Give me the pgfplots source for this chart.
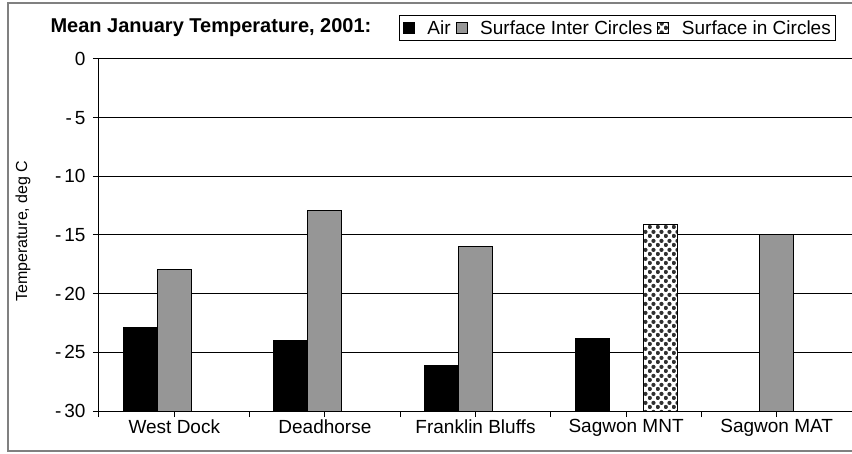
\documentclass[border=0pt]{standalone}
\usepackage{fontspec}
\setmainfont{Liberation Sans}
\usepackage{pgfplots}
\pgfplotsset{compat=1.18}
\usetikzlibrary{patterns.meta}

\definecolor{barGray}{HTML}{969696}
\definecolor{dotGray}{HTML}{303030}

\pgfdeclarepattern{
  name=circdots, type=uncolored,
  bottom left={\pgfpoint{0pt}{0pt}},
  top right={\pgfpoint{8pt}{9pt}},
  tile size={\pgfpoint{8pt}{9pt}},
  code={
    \pgfpathcircle{\pgfpoint{2pt}{2.25pt}}{2.3pt}
    \pgfpathcircle{\pgfpoint{6pt}{6.75pt}}{2.3pt}
    \pgfusepath{fill}
  }
}

\newcommand{\fs}{\fontsize{19}{22}\selectfont}

\begin{document}
\begin{tikzpicture}[x=1pt,y=1pt]
\useasboundingbox (0,0) rectangle (852,453);
% chart frame (right side runs past the edge)
\draw[line width=1.5pt, color=gray] (8,2) rectangle (900,450);

\begin{axis}[
  at={(99pt,42pt)}, anchor=south west,
  scale only axis, width=753pt, height=352pt,
  xmin=0, xmax=5, ymin=-30, ymax=0,
  y coord trafo/.code={\pgfmathparse{#1+30}},
  y coord inv trafo/.code={\pgfmathparse{#1-30}},
  axis x line=bottom, axis y line=left,
  axis line style={line width=1pt, -},
  ytick={-30,-25,-20,-15,-10,-5,0},
  yticklabels={-\kern3pt30,-\kern3pt25,-\kern3pt20,-\kern3pt15,-\kern3pt10,-\kern3pt5,0},
  xtick={0.5,1.5,2.5,3.5,4.5},
  xticklabels={West Dock,Deadhorse,Franklin Bluffs,Sagwon MNT,Sagwon MAT},
  minor xtick={0,1,2,3,4,5},
  tick align=outside,
  major tick length=6pt, minor tick length=6pt,
  tick style={line width=1pt, black},
  ymajorgrids, major grid style={line width=1pt, black},
  tick label style={font=\fs},
  yticklabel style={xshift=-4pt},
  xticklabel style={yshift=1pt},
  ylabel={Temperature, deg C},
  every axis y label/.style={at={(axis description cs:-0.101,0.511)}, anchor=center, rotate=90, font=\fontsize{16}{19}\selectfont},
  ybar, bar width=0.226,
  clip=false,
  legend columns=-1,
  legend style={at={(rel axis cs:0.689,1.088)}, anchor=center,
    draw=black, line width=1pt, font=\fs, inner xsep=3pt, inner ysep=3pt,
    /tikz/every even column/.append style={column sep=3pt},
    /tikz/every odd column/.append style={column sep=11pt}},
  legend image code/.code={\draw[#1, draw=black, line width=0.6pt] (0pt,-5pt) rectangle (11pt,6pt);},
]
\addplot[fill=black, draw=black, line width=1pt, bar shift=-0.226]
  coordinates {(0.5,-22.9) (1.5,-24.0) (2.5,-26.1) (3.5,-23.8)};
\addlegendentry{Air}
\addplot[fill=barGray, draw=black, line width=1pt, bar shift=0]
  coordinates {(0.5,-17.9) (1.5,-12.9) (2.5,-16.0) (4.5,-15.0)};
\addlegendentry{Surface Inter Circles}
\addplot[preaction={fill=white}, pattern=circdots, pattern color=dotGray, draw=black, line width=1pt, bar shift=0.226]
  coordinates {(3.5,-14.1)};
\addlegendentry{Surface in Circles}
\end{axis}

\node[anchor=west, font=\bfseries\fontsize{20}{23}\selectfont] at (47,425) {Mean January Temperature, 2001:};
\end{tikzpicture}
\end{document}
